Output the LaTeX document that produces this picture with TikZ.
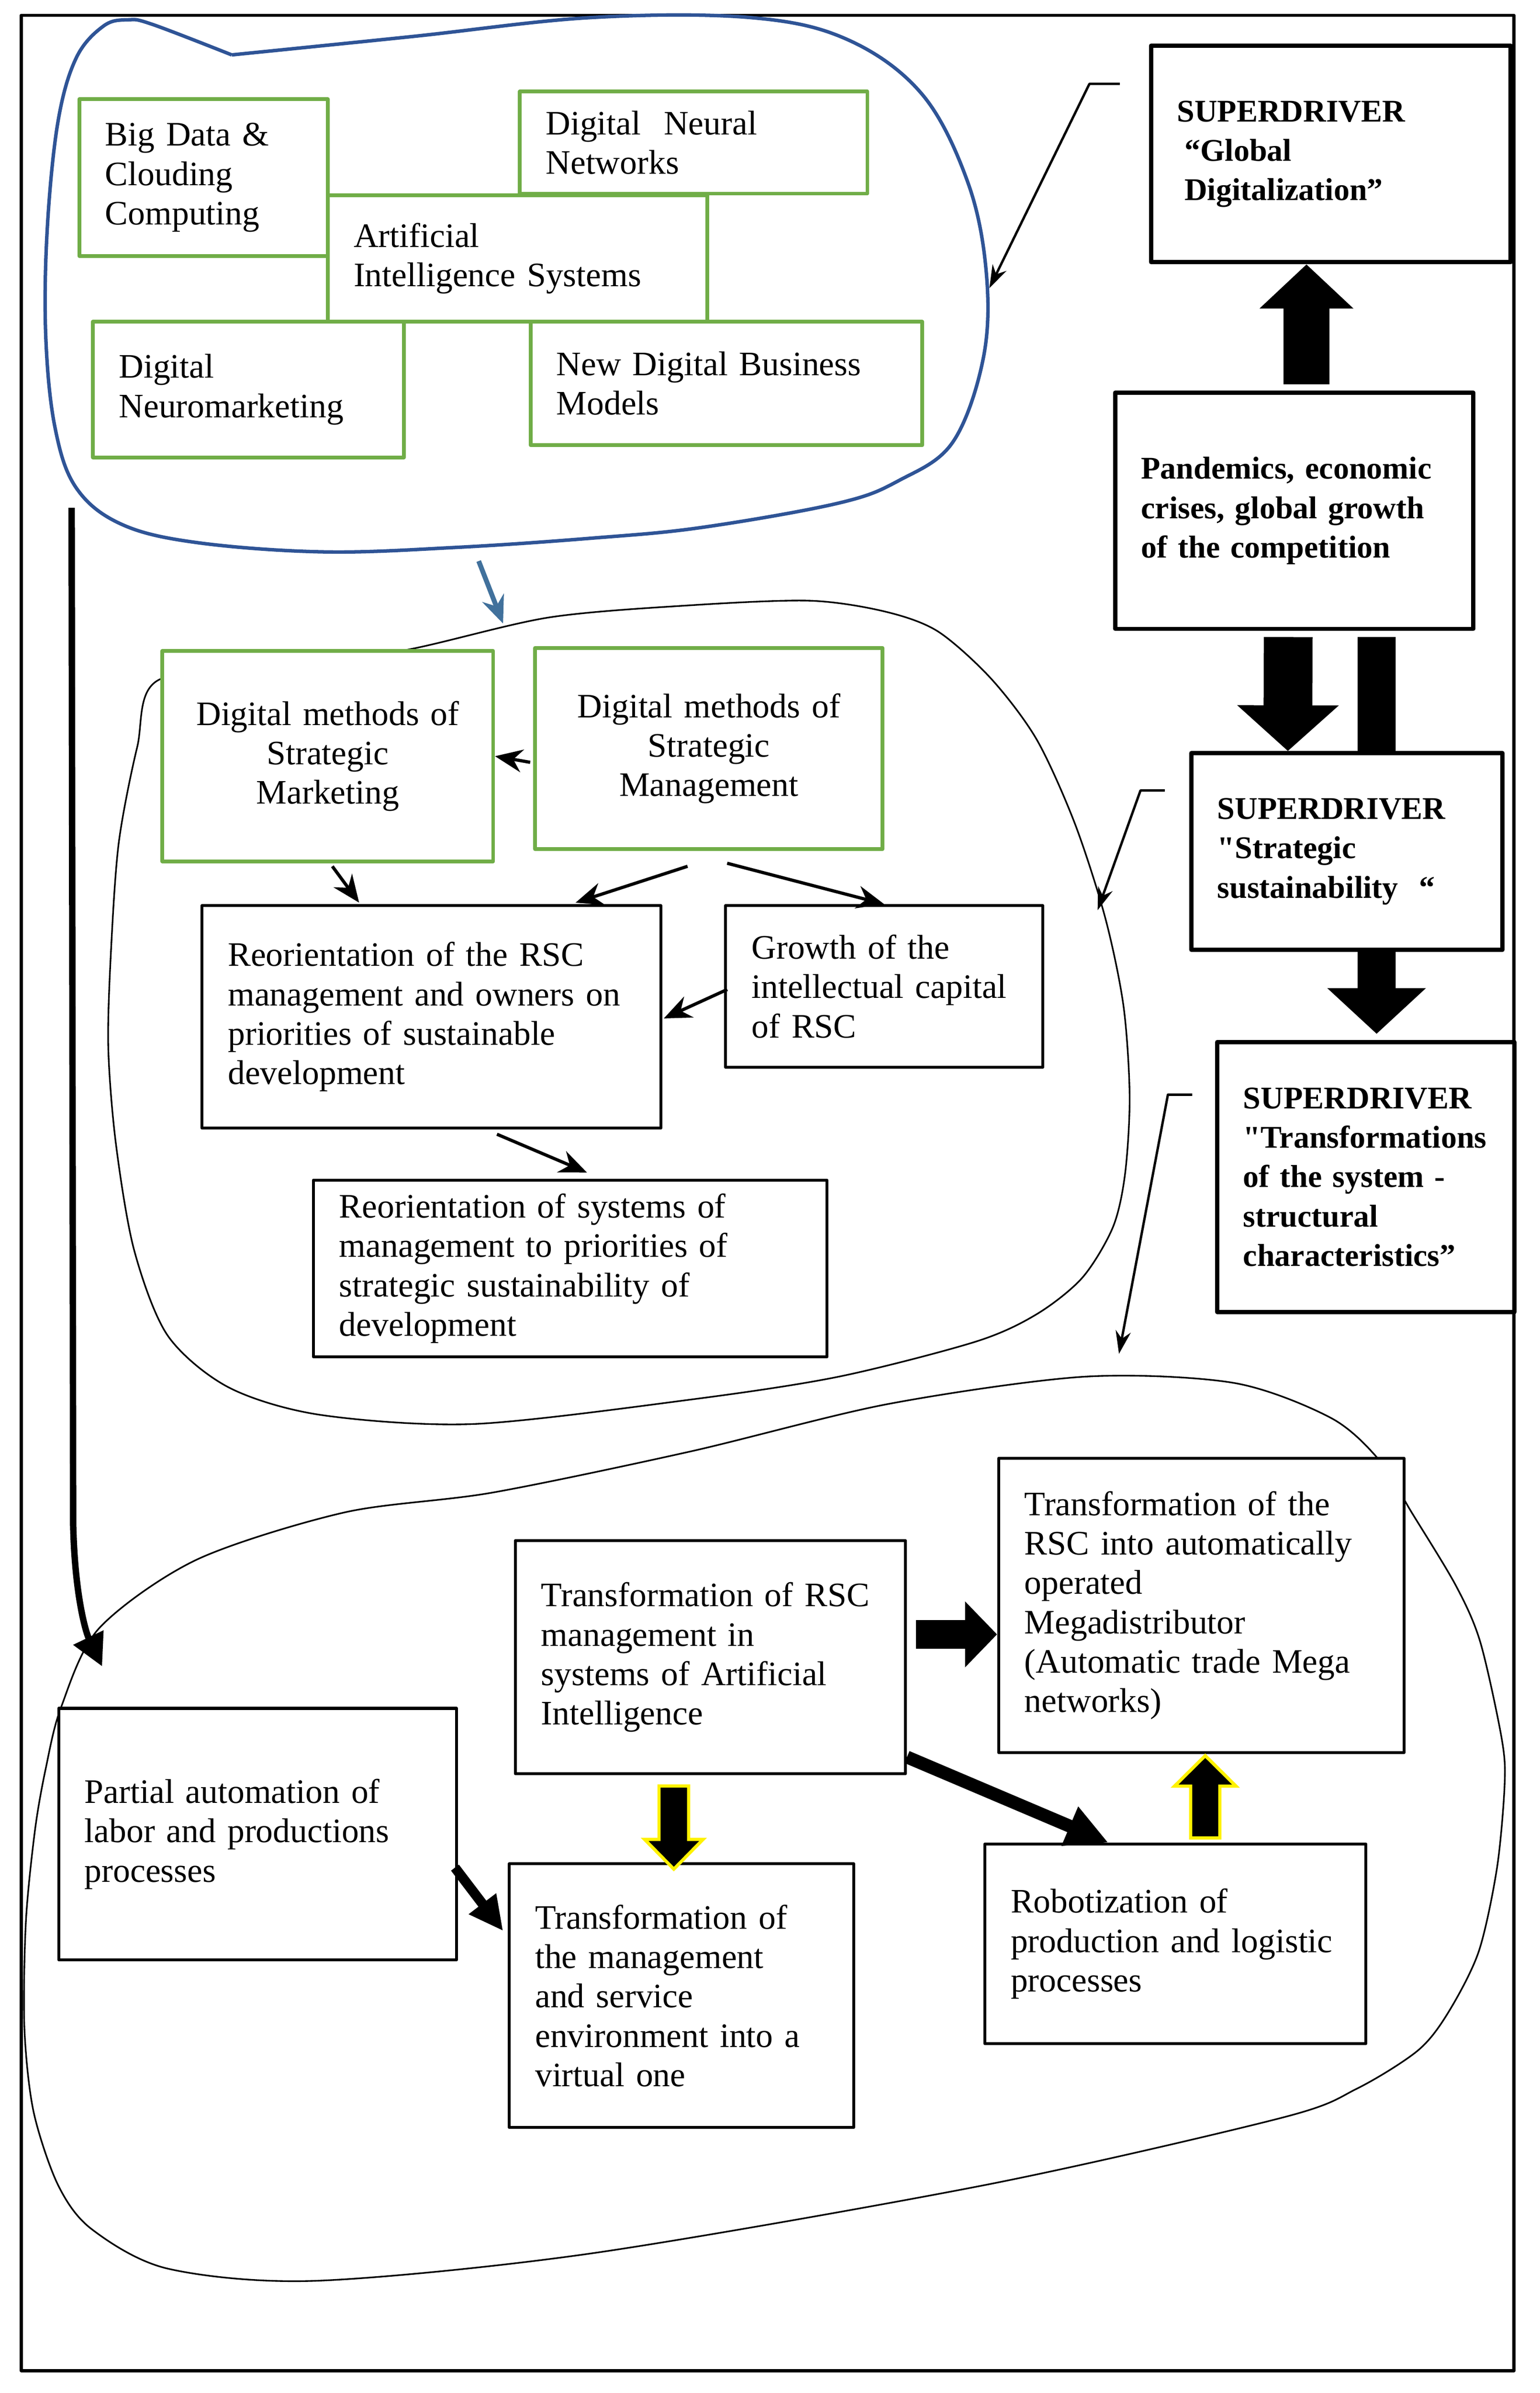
\documentclass[tikz,border=0pt]{standalone}
\usepackage{fontspec}
\setmainfont{Liberation Serif}[Ligatures=TeXOff]
\usetikzlibrary{arrows.meta,calc}
\definecolor{boxgreen}{HTML}{70AD47}
\definecolor{blobblue}{HTML}{2F5496}
\definecolor{arrowblue}{HTML}{41719C}
\tikzset{
  box/.style={draw,fill=white,line width=1.1pt,inner xsep=0.34cm,inner ysep=0pt,align=left,
    font=\fontsize{12.8}{14.7}\selectfont},
  gbox/.style={box,draw=boxgreen,line width=1.4pt},
  sdbox/.style={box,line width=1.6pt,font=\fontsize{11.8}{14.7}\selectfont\bfseries},
  thinarr/.style={line width=1.2pt,-{Stealth[length=0.36cm,width=0.3cm]}},
  ptrarr/.style={line width=0.9pt,-{Stealth[length=0.3cm,width=0.2cm]}},
  yarrow/.style={fill=black,draw=yellow,line width=1.2pt,line join=miter},
  blob/.style={line width=0.6pt},
}
\begin{document}
\begin{tikzpicture}[x=0.02cm,y=-0.02cm,line join=round]
\useasboundingbox (0,0) rectangle (1010,1569.6);
\draw[line width=1.2pt] (14,10) rectangle (993,1555);

\draw[blobblue,line width=1.3pt] plot[smooth,tension=0.6] coordinates {(152,36) (270,24) (388,11.5) (492,11.5) (556,26) (605,62) (635,120) (647,179) (645,235) (625,290) (590,315) (550,330) (460,346) (388,353) (300,359) (213,362) (130,356) (80,344) (50,320) (36,280) (30,220) (31,150) (38,80) (50,38) (68,17) (84,13) (100,16) (152,36)};
\draw[blob] plot[smooth cycle] coordinates {(190,437) (268,426) (360,405) (453,397) (531,394) (580,401) (615,414) (650,445) (680,485) (705,540) (725,602) (737,660) (741,719) (738,770) (730,805) (710,838) (680,862) (640,880) (550,903) (453,918) (311,934) (210,928) (150,910) (110,876) (88,820) (76,750) (71,686) (73,620) (78,552) (90,490) (104,446)};
\draw[blob] plot[smooth cycle] coordinates {(905,958) (926,992) (955,1040) (971,1077) (985,1140) (987,1170) (982,1225) (970,1280) (950,1320) (930,1345) (890,1370) (841,1389) (647,1433) (388,1478) (207,1496) (110,1488) (60,1462) (38,1433) (22,1385) (16,1330) (17,1260) (23,1200) (30,1160) (40,1120) (65,1068) (129,1023) (226,992) (323,979) (453,952) (582,921) (711,903) (809,907) (873,930)};

\node[gbox,text width=4.30cm,minimum height=1.66cm] (aisys) at (339.5,169.5) {Artificial\\Intelligence Systems};
\node[gbox,text width=2.58cm,minimum height=2.06cm] (bigdata) at (133.5,116.5) {Big Data \&\\Clouding\\Computing};
\node[gbox,text width=3.88cm,minimum height=1.34cm] (neural) at (455,93.5) {Digital\ \ Neural\\Networks};
\node[gbox,text width=3.40cm,minimum height=1.78cm] (neuromkt) at (163,255.5) {Digital\\Neuromarketing};
\node[gbox,text width=4.46cm,minimum height=1.62cm] (newbiz) at (476.5,251.5) {New Digital Business\\Models};

\node[sdbox,text width=4.04cm,minimum height=2.84cm] (sdglobal) at (873,101) {SUPERDRIVER\\\hspace*{0.1cm}“Global\\\hspace*{0.1cm}Digitalization”};
\node[sdbox,text width=4.02cm,minimum height=3.10cm] (pandemic) at (849,335) {Pandemics, economic\\crises, global growth\\of the competition};
\node[sdbox,text width=3.40cm,minimum height=2.58cm] (sdstrat) at (883.5,558.5) {SUPERDRIVER\\"Strategic\\sustainability\ \ “};
\node[sdbox,text width=3.22cm,minimum height=3.54cm] (sdtrans) at (896,772) {SUPERDRIVER\\"Transformations\\of the system -\\structural\\characteristics”};

\node[gbox,align=center,text width=3.66cm,minimum height=2.76cm] (stratmkt) at (215,496) {Digital methods of\\Strategic\\Marketing};
\node[gbox,align=center,text width=3.88cm,minimum height=2.64cm] (stratmgmt) at (465,491) {Digital methods of\\Strategic\\Management};
\node[box,text width=5.34cm,minimum height=2.92cm] (reorrsc) at (283,667) {Reorientation of the RSC\\management and owners on\\priorities of sustainable\\development};
\node[box,text width=3.48cm,minimum height=2.12cm] (growth) at (580,647) {Growth of the\\intellectual capital\\of RSC};
\node[box,text width=6.06cm,minimum height=2.32cm] (reorsys) at (374,832) {Reorientation of systems of\\management to priorities of\\strategic sustainability of\\development};

\node[box,text width=4.44cm,minimum height=3.06cm] (rscai) at (466,1087) {Transformation of RSC\\management in\\systems of Artificial\\Intelligence};
\node[box,text width=4.64cm,minimum height=3.86cm] (mega) at (788,1053) {Transformation of the\\RSC into automatically\\operated\\Megadistributor\\(Automatic trade Mega\\networks)};
\node[box,text width=4.54cm,minimum height=3.30cm] (partial) at (169,1203) {Partial automation of\\labor and productions\\processes};
\node[box,text width=3.84cm,minimum height=3.46cm] (virtual) at (447,1309) {Transformation of\\the management\\and service\\environment into a\\virtual one};
\node[box,text width=4.32cm,minimum height=2.62cm] (robot) at (771,1275) {Robotization of\\production and logistic\\processes};

\draw[line width=0.6cm,-{Triangle[length=0.58cm,width=1.2cm]}] ($(pandemic.north)+(8,-4)$) -- ($(sdglobal.south)+(-16,0)$);
\draw[line width=0.64cm,-{Triangle[length=0.6cm,width=1.3cm]}] ($(pandemic.south)+(-4,4)$) -- ($(sdstrat.north)+(-38.7,0)$);
\draw[line width=0.5cm] ($(pandemic.south)+(54,4)$) -- ($(sdstrat.north)+(19.5,0)$);
\draw[line width=0.5cm,-{Triangle[length=0.6cm,width=1.26cm]}] ($(sdstrat.south)+(19.5,0)$) -- ($(sdtrans.north)+(7,-4)$);

\coordinate (ptrend1) at (649,189);
\coordinate (ptrend2) at (720,597);
\coordinate (ptrend3) at (734,888);
\draw[ptrarr] ($(sdglobal.west)+(-19,-46)$) -- ++(-20,0) -- (ptrend1);
\draw[ptrarr] ($(sdstrat.west)+(-16,-40)$) -- ++(-16,0) -- (ptrend2);
\draw[ptrarr] ($(sdtrans.west)+(-15,-54)$) -- ++(-16,0) -- (ptrend3);

\coordinate (bluefrom) at (314,368);
\coordinate (blueto) at (330,409);
\draw[arrowblue,line width=1.8pt,-{Stealth[length=0.36cm,width=0.3cm]}] (bluefrom) -- (blueto);

\draw[thinarr] ($(stratmgmt.west)+(-2,9)$) -- (stratmkt.east);
\draw[thinarr] ($(stratmkt.south)+(3,2)$) -- ($(reorrsc.north west)+(104,-1)$);
\draw[thinarr] ($(stratmgmt.south)+(-14,10)$) -- ($(reorrsc.north west)+(246,-1)$);
\draw[thinarr] ($(stratmgmt.south)+(12,8)$) -- (growth.north);
\draw[thinarr] ($(growth.west)+(2,2)$) -- ($(reorrsc.east)+(1,1)$);
\draw[thinarr] ($(reorrsc.south)+(43,3)$) -- ($(reorsys.north)+(11,-4)$);

\coordinate (leftstart) at (47,333);
\coordinate (leftend) at (67,1093);
\draw[line width=2.4pt,-{Triangle[length=0.42cm,width=0.42cm]}] (leftstart) -- (48,1000) .. controls (49,1045) and (56,1070) .. (leftend);

\draw[line width=0.38cm,-{Triangle[length=0.42cm,width=0.84cm]}] ($(rscai.east)+(6,-15)$) -- ($(rscai.east -| mega.west)+(0,-15)$);
\draw[line width=0.17cm,-{Triangle[length=0.55cm,width=0.52cm]}] ($(rscai.south east)+(0,-12)$) -- ($(robot.north west)+(82,0)$);
\draw[line width=0.13cm,-{Triangle[length=0.45cm,width=0.42cm]}] ($(partial.east)+(-2,22)$) -- ($(virtual.north west)+(-3,45)$);
\draw[yarrow] ($(rscai.south)+(-33.7,7)$) -- ++(0,35) -- ++(-9.5,0) -- ++(19.2,19.5) -- ++(19.2,-19.5) -- ++(-9.5,0) -- ++(0,-35) -- cycle;
\draw[yarrow] ($(robot.north)+(10,-3)$) -- ++(0,-34) -- ++(-10.6,0) -- ++(20.2,-20) -- ++(20.2,20) -- ++(-10.6,0) -- ++(0,34) -- cycle;
\end{tikzpicture}
\end{document}
